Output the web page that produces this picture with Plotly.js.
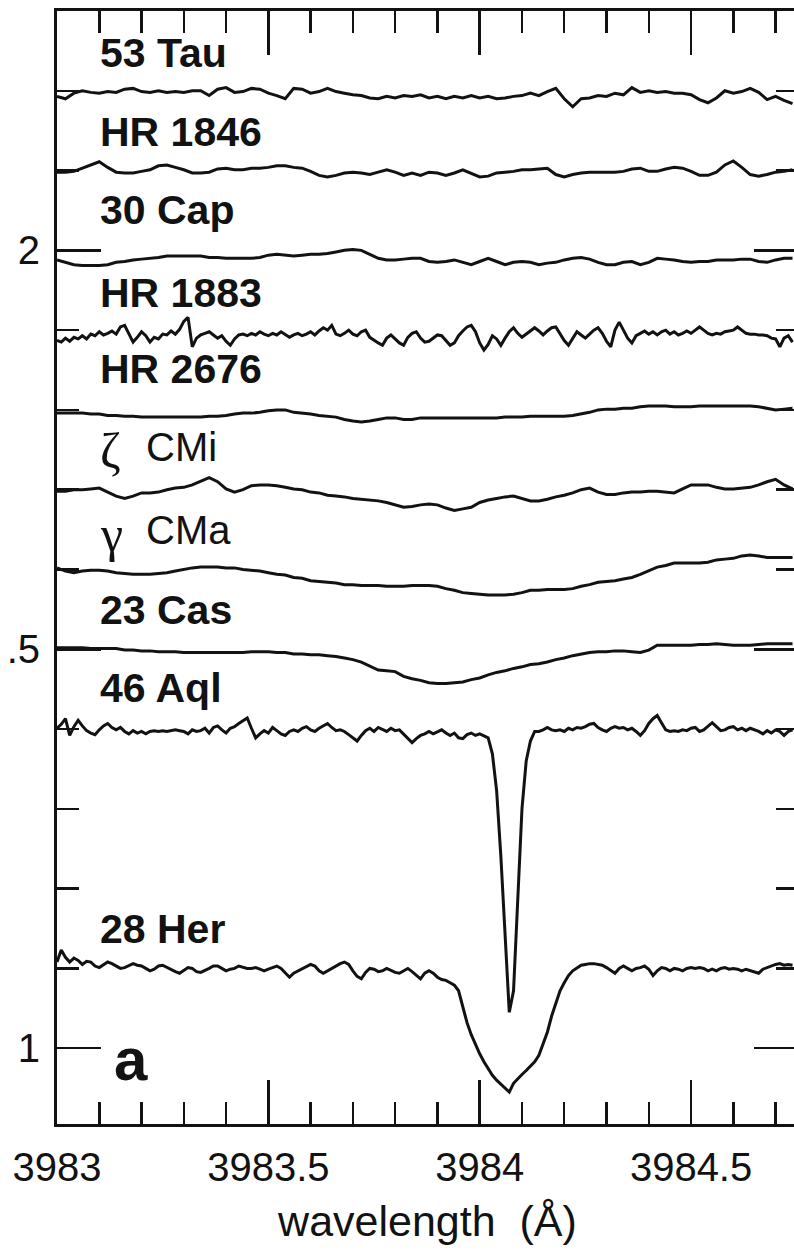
<!DOCTYPE html>
<html>
<head>
<meta charset="utf-8">
<script src="https://cdn.plot.ly/plotly-3.0.1.min.js"></script>
<style>
  html, body { margin: 0; padding: 0; background: #fff; overflow: hidden; }
  #plot { width: 798px; height: 1254px; }
</style>
</head>
<body>
<div id="plot"></div>
<script>
// Wavelength sampling (Angstrom): a coarse grid for the quiet spectra,
// a fine grid for the noisy ones and the narrow absorption features.
const WL_START = 3983.0;
const WL_STEP_COARSE = 0.02, N_COARSE = 88;
const WL_STEP_FINE = 0.01, N_FINE = 175;
const wlCoarse = Array.from({ length: N_COARSE }, (_, i) => +(WL_START + WL_STEP_COARSE * i).toFixed(2));
const wlFine = Array.from({ length: N_FINE }, (_, i) => +(WL_START + WL_STEP_FINE * i).toFixed(2));

// Stars, top to bottom, and the vertical shift applied to each normalised spectrum
const starNames = ['53 Tau', 'HR 1846', '30 Cap', 'HR 1883', 'HR 2676', 'ζ CMi', 'γ CMa', '23 Cas', '46 Aql', '28 Her'];
const starOffsets = [1.194, 1.098, 0.985, 0.890, 0.796, 0.697, 0.599, 0.502, 0.398, 0.100];
// Height (in plotted flux units) of each star's name label
const labelHeights = [2.247, 2.148, 2.050, 1.947, 1.851, 1.753, 1.649, 1.549, 1.451, 1.150];

// Y-axis tick values and the text printed beside them
const yTickVals = [1, 1.5, 2];
const yTickText = ['1', '.5', '2'];

// Normalised flux
const flux53Tau = [
  0.999, 0.996, 1.003, 1.006, 1.004, 1.003, 1.005, 1.004, 1.008, 1.009,
  1.005, 1.004, 1.006, 1.004, 1.005, 1.004, 1.006, 1.006, 1.000, 1.008,
  1.010, 1.004, 1.005, 1.009, 1.008, 1.003, 1.000, 0.996, 1.009, 1.008,
  1.003, 1.005, 1.009, 1.005, 1.003, 1.001, 1.000, 0.997, 0.996, 0.999,
  0.997, 1.000, 0.999, 1.001, 0.997, 0.999, 0.996, 0.999, 0.997, 1.000,
  0.997, 0.999, 0.996, 0.997, 0.999, 1.000, 1.003, 1.000, 1.005, 1.009,
  0.996, 0.986, 0.996, 0.997, 1.000, 0.999, 1.003, 1.001, 1.010, 1.004,
  1.006, 1.004, 1.005, 1.003, 1.003, 1.001, 0.995, 0.991, 0.997, 1.006,
  1.003, 1.005, 1.009, 1.004, 0.995, 0.999, 0.994, 0.990
];
const fluxHR1846 = [
  1.000, 1.000, 1.001, 1.005, 1.009, 1.013, 1.006, 1.000, 0.999, 0.999,
  1.001, 1.003, 1.008, 1.009, 1.006, 1.003, 0.999, 0.999, 1.000, 1.004,
  1.005, 1.003, 1.003, 1.005, 1.005, 1.006, 1.008, 1.008, 1.006, 1.005,
  1.001, 0.996, 0.994, 0.996, 0.999, 1.000, 0.999, 0.997, 1.000, 1.003,
  1.000, 0.996, 0.999, 0.996, 1.000, 0.999, 0.996, 0.999, 1.003, 0.999,
  0.994, 0.995, 0.999, 1.000, 1.001, 1.003, 1.003, 1.004, 1.005, 0.997,
  0.994, 0.997, 0.999, 1.000, 1.000, 1.000, 1.000, 1.001, 1.004, 1.005,
  1.001, 1.001, 1.004, 1.006, 1.005, 1.001, 0.996, 0.996, 1.000, 1.009,
  1.014, 1.006, 0.997, 0.995, 0.997, 1.000, 1.001, 1.003
];
const flux30Cap = [
  1.003, 1.000, 0.997, 0.996, 0.996, 0.996, 0.997, 1.000, 1.001, 1.003,
  1.004, 1.005, 1.006, 1.008, 1.008, 1.008, 1.008, 1.008, 1.006, 1.006,
  1.005, 1.005, 1.005, 1.005, 1.006, 1.009, 1.010, 1.009, 1.008, 1.009,
  1.010, 1.010, 1.011, 1.013, 1.015, 1.016, 1.015, 1.010, 1.005, 1.003,
  1.003, 1.004, 1.005, 1.005, 1.001, 1.000, 1.001, 1.003, 1.000, 0.997,
  1.001, 1.005, 1.001, 0.997, 1.000, 1.001, 1.000, 0.997, 0.999, 1.000,
  1.003, 1.005, 1.006, 1.004, 1.000, 0.997, 0.997, 1.000, 1.001, 0.997,
  1.000, 1.005, 1.004, 1.003, 1.001, 1.000, 1.001, 1.001, 1.003, 1.003,
  1.003, 1.004, 1.004, 1.001, 1.000, 1.003, 1.005, 1.005
];
const fluxHR1883 = [
  0.997, 0.995, 1.000, 0.996, 1.001, 0.999, 1.003, 0.999, 1.005, 1.003,
  1.008, 1.004, 1.006, 1.009, 1.005, 1.014, 1.016, 1.006, 0.995, 1.001,
  1.008, 1.003, 0.995, 1.001, 0.999, 1.005, 1.004, 1.009, 1.005, 1.011,
  1.021, 1.026, 0.989, 1.000, 1.004, 1.006, 1.008, 1.004, 1.000, 1.003,
  0.996, 0.991, 0.999, 1.004, 1.005, 1.003, 1.006, 1.004, 1.008, 1.005,
  1.003, 1.006, 1.004, 1.008, 1.005, 1.001, 1.004, 1.006, 1.003, 1.005,
  1.008, 1.004, 1.009, 1.013, 1.010, 1.016, 1.005, 1.003, 1.006, 1.010,
  1.005, 1.003, 1.008, 1.010, 1.001, 0.997, 0.994, 0.991, 1.000, 1.004,
  0.999, 0.994, 0.991, 1.001, 1.006, 1.008, 1.000, 0.995, 0.996, 1.000,
  1.004, 1.003, 0.997, 0.991, 0.994, 1.003, 1.009, 1.014, 1.016, 1.008,
  0.994, 0.985, 0.992, 1.003, 0.999, 0.991, 1.000, 1.008, 1.013, 1.006,
  1.001, 1.005, 1.010, 1.013, 1.009, 1.004, 1.009, 1.013, 1.014, 1.005,
  0.997, 0.991, 0.999, 1.008, 1.004, 1.000, 1.005, 1.010, 1.013, 1.006,
  0.996, 0.989, 1.010, 1.020, 1.010, 1.000, 0.994, 1.003, 1.006, 1.009,
  1.005, 1.008, 1.004, 1.008, 1.010, 1.005, 1.008, 1.004, 1.006, 1.009,
  1.006, 1.010, 1.014, 1.010, 1.006, 1.004, 1.006, 1.005, 1.008, 1.009,
  1.010, 1.014, 1.010, 1.006, 1.005, 1.005, 1.004, 1.004, 1.003, 1.000,
  0.999, 0.989, 1.000, 1.003, 0.995
];
const fluxHR2676 = [
  1.000, 1.000, 1.000, 1.000, 0.999, 0.999, 0.997, 0.997, 0.996, 0.996,
  0.995, 0.995, 0.995, 0.995, 0.995, 0.995, 0.995, 0.995, 0.996, 0.996,
  0.997, 0.999, 1.000, 1.000, 1.001, 1.003, 1.004, 1.004, 1.001, 1.000,
  0.999, 0.997, 0.996, 0.995, 0.992, 0.990, 0.989, 0.990, 0.992, 0.994,
  0.994, 0.992, 0.992, 0.994, 0.994, 0.994, 0.994, 0.994, 0.994, 0.994,
  0.994, 0.994, 0.994, 0.995, 0.995, 0.995, 0.996, 0.996, 0.996, 0.996,
  0.996, 0.997, 0.999, 1.001, 1.004, 1.005, 1.005, 1.006, 1.006, 1.008,
  1.009, 1.009, 1.009, 1.008, 1.008, 1.008, 1.009, 1.009, 1.009, 1.009,
  1.009, 1.009, 1.009, 1.008, 1.006, 1.004, 1.005, 1.006
];
const fluxZetaCMi = [
  1.001, 1.001, 1.003, 1.003, 1.004, 1.005, 1.000, 0.995, 0.992, 0.995,
  0.999, 0.999, 1.000, 1.003, 1.005, 1.006, 1.009, 1.013, 1.018, 1.013,
  1.004, 1.000, 1.003, 1.008, 1.009, 1.009, 1.008, 1.006, 1.004, 1.003,
  1.000, 0.999, 0.996, 0.995, 0.994, 0.992, 0.991, 0.990, 0.989, 0.987,
  0.984, 0.981, 0.982, 0.984, 0.985, 0.984, 0.980, 0.977, 0.979, 0.981,
  0.987, 0.990, 0.992, 0.994, 0.995, 0.992, 0.989, 0.989, 0.991, 0.994,
  0.996, 0.999, 1.003, 1.005, 1.000, 0.997, 0.997, 0.999, 1.000, 1.000,
  1.001, 1.001, 1.000, 0.999, 1.004, 1.009, 1.009, 1.009, 1.006, 1.004,
  1.004, 1.005, 1.006, 1.009, 1.013, 1.016, 1.009, 1.004
];
const fluxGammaCMa = [
  1.003, 0.999, 0.997, 0.999, 1.000, 1.000, 0.999, 0.997, 0.996, 0.995,
  0.995, 0.995, 0.996, 0.997, 0.999, 1.001, 1.003, 1.004, 1.004, 1.004,
  1.003, 1.003, 1.001, 1.000, 0.999, 0.997, 0.995, 0.994, 0.991, 0.990,
  0.987, 0.986, 0.985, 0.984, 0.982, 0.982, 0.981, 0.981, 0.981, 0.980,
  0.980, 0.980, 0.981, 0.981, 0.981, 0.980, 0.977, 0.975, 0.972, 0.971,
  0.970, 0.969, 0.969, 0.969, 0.970, 0.972, 0.975, 0.975, 0.976, 0.976,
  0.976, 0.977, 0.980, 0.982, 0.985, 0.986, 0.987, 0.989, 0.991, 0.995,
  1.000, 1.004, 1.006, 1.009, 1.009, 1.009, 1.009, 1.010, 1.013, 1.014,
  1.015, 1.018, 1.019, 1.018, 1.016, 1.016, 1.016, 1.016
];
const flux23Cas = [
  1.000, 1.000, 1.000, 1.000, 0.999, 0.999, 0.999, 0.999, 0.997, 0.997,
  0.996, 0.996, 0.995, 0.995, 0.995, 0.994, 0.994, 0.994, 0.994, 0.994,
  0.994, 0.994, 0.994, 0.995, 0.995, 0.995, 0.994, 0.994, 0.992, 0.992,
  0.991, 0.991, 0.990, 0.989, 0.987, 0.985, 0.982, 0.977, 0.972, 0.971,
  0.970, 0.964, 0.961, 0.959, 0.956, 0.955, 0.955, 0.956, 0.957, 0.960,
  0.962, 0.966, 0.969, 0.971, 0.974, 0.976, 0.979, 0.980, 0.982, 0.985,
  0.987, 0.990, 0.992, 0.994, 0.995, 0.995, 0.996, 0.996, 0.995, 0.994,
  0.997, 1.003, 1.003, 1.003, 1.003, 1.003, 1.004, 1.004, 1.005, 1.004,
  1.003, 1.003, 1.003, 1.004, 1.005, 1.005, 1.005, 1.005
];
const flux46Aql = [
  1.003, 1.008, 1.015, 0.994, 1.005, 1.013, 1.006, 1.000, 0.997, 0.995,
  1.001, 1.006, 1.009, 1.004, 1.001, 1.004, 0.999, 0.996, 1.000, 0.997,
  0.999, 0.996, 0.999, 1.000, 0.999, 1.000, 0.999, 1.000, 1.001, 1.000,
  0.999, 0.996, 1.001, 0.999, 1.000, 1.003, 0.997, 1.004, 1.006, 1.001,
  0.997, 1.003, 1.005, 1.009, 1.013, 1.016, 1.003, 0.991, 0.996, 1.000,
  0.997, 1.004, 1.000, 0.996, 0.994, 0.999, 1.001, 0.999, 1.003, 1.005,
  1.001, 0.999, 1.003, 1.006, 1.009, 1.004, 1.000, 1.001, 0.999, 0.995,
  0.991, 0.987, 0.994, 1.000, 1.003, 0.999, 1.004, 1.001, 0.999, 1.003,
  1.000, 1.001, 0.996, 0.990, 0.985, 0.990, 0.994, 0.996, 0.999, 0.996,
  0.999, 1.001, 0.997, 0.994, 0.997, 0.991, 0.990, 0.995, 0.997, 0.994,
  0.996, 0.994, 0.991, 0.971, 0.925, 0.843, 0.737, 0.647, 0.674, 0.783,
  0.902, 0.962, 0.987, 0.999, 0.999, 1.001, 1.004, 1.001, 1.000, 1.001,
  0.999, 1.003, 1.001, 1.004, 1.003, 1.005, 1.008, 1.009, 1.004, 1.001,
  0.999, 1.003, 1.005, 1.003, 1.004, 1.001, 1.003, 0.999, 0.994, 1.000,
  1.009, 1.015, 1.019, 1.010, 1.001, 0.999, 1.000, 0.999, 1.001, 1.000,
  1.003, 1.004, 0.999, 1.001, 1.005, 1.010, 1.005, 1.000, 1.001, 1.004,
  1.005, 1.001, 1.003, 1.000, 1.003, 1.001, 0.999, 0.996, 1.000, 0.997,
  1.001, 0.999, 0.994, 0.999, 1.001
];
const flux28Her = [
  1.008, 1.023, 1.014, 1.008, 1.013, 1.010, 1.005, 1.009, 1.008, 1.003,
  1.001, 1.005, 1.008, 1.006, 1.003, 1.000, 1.001, 1.004, 1.006, 1.004,
  1.003, 1.000, 0.997, 0.999, 1.003, 1.004, 1.001, 0.999, 0.996, 0.994,
  0.997, 1.001, 1.000, 0.996, 0.995, 0.997, 1.000, 1.003, 1.003, 1.000,
  0.997, 0.999, 1.000, 1.003, 1.001, 1.000, 1.000, 1.001, 0.999, 0.997,
  0.999, 1.001, 1.003, 1.000, 0.994, 0.989, 0.994, 0.997, 1.000, 1.003,
  1.005, 1.003, 0.997, 0.994, 0.997, 1.001, 1.004, 1.006, 1.008, 1.005,
  0.997, 0.990, 0.987, 0.995, 1.000, 0.999, 0.996, 0.997, 1.000, 0.997,
  0.995, 0.994, 0.997, 1.000, 0.996, 0.991, 0.987, 0.994, 0.997, 0.994,
  0.989, 0.986, 0.985, 0.982, 0.979, 0.972, 0.950, 0.932, 0.917, 0.904,
  0.893, 0.883, 0.875, 0.866, 0.860, 0.855, 0.850, 0.845, 0.856, 0.862,
  0.867, 0.872, 0.877, 0.883, 0.891, 0.905, 0.920, 0.940, 0.957, 0.972,
  0.982, 0.991, 0.997, 1.001, 1.004, 1.005, 1.006, 1.006, 1.005, 1.004,
  1.001, 0.997, 0.994, 1.000, 1.003, 1.000, 0.997, 1.000, 1.001, 1.003,
  0.999, 0.991, 0.997, 1.001, 1.000, 0.997, 1.000, 0.999, 0.997, 1.000,
  1.001, 1.000, 1.001, 1.000, 0.997, 0.999, 0.997, 1.000, 1.001, 0.999,
  1.000, 0.999, 0.997, 0.999, 0.997, 0.995, 0.994, 0.999, 1.001, 1.003,
  1.005, 1.006, 1.004, 1.005, 1.004
];

const spectra = [flux53Tau, fluxHR1846, flux30Cap, fluxHR1883, fluxHR2676,
                 fluxZetaCMi, fluxGammaCMa, flux23Cas, flux46Aql, flux28Her];

const INK = '#121212';
const SANS = 'Liberation Sans, Arial, Helvetica, sans-serif';
const SERIF = 'Liberation Serif, DejaVu Serif, serif';

// One line per star, shifted by its offset
const traces = spectra.map((f, k) => ({
  type: 'scatter',
  mode: 'lines',
  name: starNames[k],
  x: f.length === N_FINE ? wlFine : wlCoarse,
  y: f.map(v => +(v + starOffsets[k]).toFixed(4)),
  line: { color: INK, width: 3 },
  hoverinfo: 'skip'
}));

// Star name labels; Greek Bayer letters are set in a serif face
const LABEL_X = 3983.096;
const CONST_X = 3983.205;
const annotations = [];
starNames.forEach((name, k) => {
  const parts = name.split(' ');
  if (/^[α-ω]$/.test(parts[0])) {
    annotations.push({
      x: LABEL_X, y: labelHeights[k], xref: 'x', yref: 'y',
      text: parts[0], showarrow: false, xanchor: 'left', yanchor: 'middle', yshift: -4,
      font: { family: SERIF, size: 50, color: INK }
    });
    annotations.push({
      x: CONST_X, y: labelHeights[k], xref: 'x', yref: 'y',
      text: parts.slice(1).join(' '), showarrow: false, xanchor: 'left', yanchor: 'middle',
      font: { family: SANS, size: 40, color: INK }
    });
  } else {
    annotations.push({
      x: LABEL_X, y: labelHeights[k], xref: 'x', yref: 'y',
      text: name, showarrow: false, xanchor: 'left', yanchor: 'middle',
      font: { family: SANS, size: 41, color: INK, weight: 700 }
    });
  }
});
// Panel letter
annotations.push({
  x: 3983.130, y: 0.986, xref: 'x', yref: 'y',
  text: 'a', showarrow: false, xanchor: 'left', yanchor: 'middle',
  font: { family: SANS, size: 60, color: INK, weight: 700 }
});

const axisCommon = {
  showgrid: false, zeroline: false,
  showline: true, linecolor: INK, linewidth: 3, mirror: 'ticks',
  ticks: 'inside', ticklen: 44, tickwidth: 2.5, tickcolor: INK,
  tickfont: { family: SANS, size: 40, color: INK },
  automargin: false, fixedrange: true
};

const layout = {
  width: 798, height: 1254,
  margin: { l: 57, r: 0, t: 11, b: 130, pad: 0 },
  paper_bgcolor: '#fff', plot_bgcolor: '#fff',
  showlegend: false,
  font: { family: SANS, color: INK, size: 40 },
  xaxis: Object.assign({}, axisCommon, {
    range: [3983, 3984.753],
    tick0: 3983, dtick: 0.5, tickformat: '.1~f',
    minor: { dtick: 0.1, ticks: 'inside', ticklen: 22, tickwidth: 2.5, tickcolor: INK, showgrid: false },
    ticklabelstandoff: 6,
    title: { text: 'wavelength\u00a0\u00a0(Å)', font: { family: SANS, size: 43, color: INK }, standoff: 18 }
  }),
  yaxis: Object.assign({}, axisCommon, {
    range: [0.905, 2.3],
    tickmode: 'array', tickvals: yTickVals, ticktext: yTickText,
    minor: { tick0: 0, dtick: 0.1, ticks: 'inside', ticklen: 22, tickwidth: 2.5, tickcolor: INK, showgrid: false },
    ticklabelstandoff: 6
  }),
  annotations: annotations
};

Plotly.newPlot('plot', traces, layout, { staticPlot: true, displayModeBar: false });
</script>
</body>
</html>
